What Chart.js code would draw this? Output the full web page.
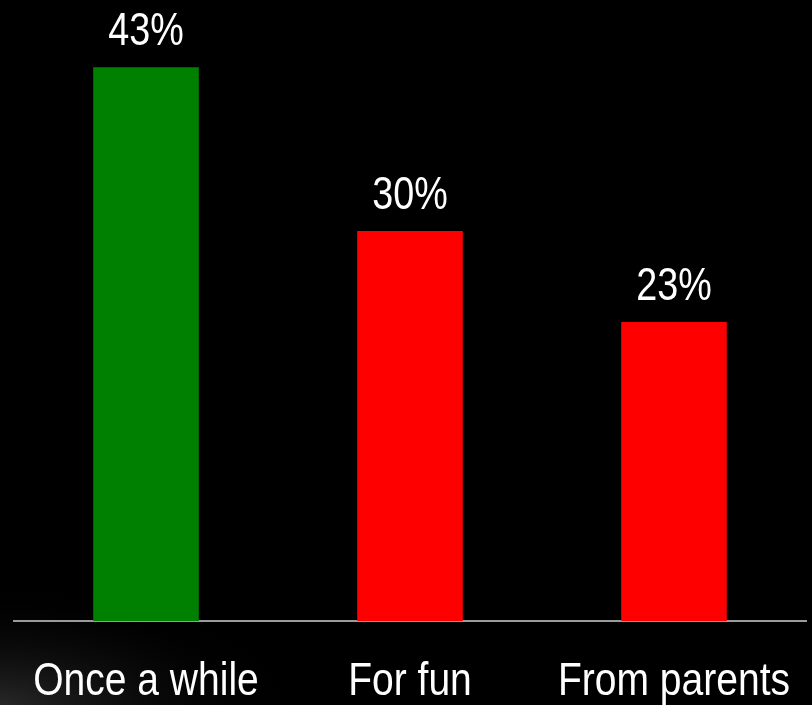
<!DOCTYPE html>
<html>
<head>
<meta charset="utf-8">
<script src="https://cdn.jsdelivr.net/npm/chart.js@4.4.1/dist/chart.umd.min.js"></script>
<style>
  html, body { margin: 0; padding: 0; background: #000; }
</style>
</head>
<body>
<canvas id="chart" width="812" height="705"></canvas>
<script>
const categories = ['Once a while', 'For fun', 'From parents'];
const shares = [42.6, 30, 23];
const barColors = ['#008000', '#ff0000', '#ff0000'];

const FONT = '"Liberation Sans", Arial, sans-serif';

// black backdrop with the faint glow in the lower left corner
const backdrop = {
    id: 'backdrop',
    beforeDraw(chart) {
        const ctx = chart.ctx;
        ctx.save();
        ctx.fillStyle = '#000';
        ctx.fillRect(0, 0, chart.width, chart.height);
        ctx.translate(0, chart.height);
        ctx.scale(1, 0.4);
        const g = ctx.createRadialGradient(0, 0, 0, 0, 0, 300);
        g.addColorStop(0, 'rgba(40,40,40,1)');
        g.addColorStop(1, 'rgba(0,0,0,0)');
        ctx.fillStyle = g;
        ctx.fillRect(0, -300, 300, 300);
        ctx.restore();
    }
};

// narrow text: Arial metrics squeezed horizontally
function narrowText(ctx, text, x, y, size, squeeze) {
    ctx.save();
    ctx.font = size + 'px ' + FONT;
    ctx.translate(x, y);
    ctx.scale(squeeze, 1);
    ctx.fillText(text, 0, 0);
    ctx.restore();
}

const textLabels = {
    id: 'textLabels',
    afterDatasetsDraw(chart) {
        const ctx = chart.ctx;
        const meta = chart.getDatasetMeta(0);
        const xs = chart.scales.x;
        ctx.save();
        ctx.fillStyle = '#ffffff';
        ctx.textAlign = 'center';
        ctx.textBaseline = 'alphabetic';
        meta.data.forEach((bar, i) => {
            narrowText(ctx, Math.round(shares[i]) + '%', bar.x, bar.y - 22, 46, 0.82);
        });
        categories.forEach((c, i) => {
            narrowText(ctx, c, xs.getPixelForValue(i), 695, 47, 0.83);
        });
        ctx.restore();
    }
};

new Chart(document.getElementById('chart'), {
    type: 'bar',
    data: {
        labels: categories,
        datasets: [{
            data: shares,
            backgroundColor: barColors,
            borderWidth: 0,
            categoryPercentage: 0.4,
            barPercentage: 1.0
        }]
    },
    options: {
        responsive: false,
        animation: false,
        layout: { padding: { left: 14, right: 6, top: 36, bottom: 0 } },
        plugins: {
            legend: { display: false },
            tooltip: { enabled: false }
        },
        scales: {
            x: {
                grid: { display: false },
                border: { display: true, color: '#9a9a9a', width: 2 },
                ticks: { display: false },
                afterFit(scale) { scale.height = 84; }
            },
            y: {
                display: false,
                min: 0,
                max: 45
            }
        }
    },
    plugins: [backdrop, textLabels]
});
</script>
</body>
</html>
